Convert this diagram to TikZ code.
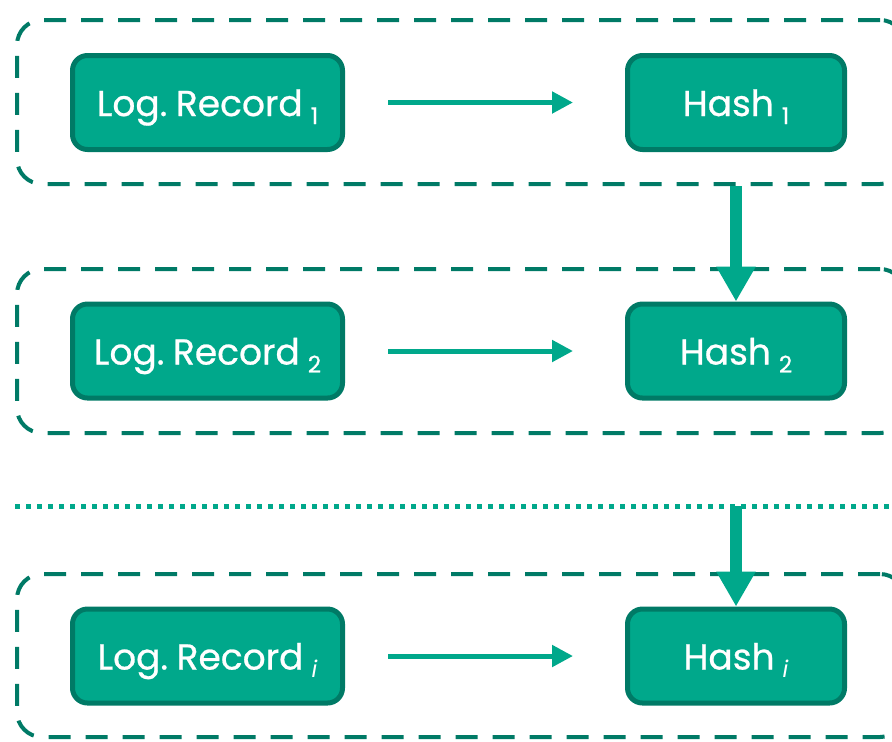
\documentclass[tikz,border=0pt]{standalone}
\usepackage{fontspec}
\setmainfont{Poppins}[UprightFeatures={FakeBold=0.7}]
\usetikzlibrary{arrows.meta}

\definecolor{tealfill}{HTML}{00A88B}
\definecolor{tealdark}{HTML}{007A66}

% index set low and small after a label
\newcommand{\lowidx}[1]{\hspace{4pt}\raisebox{-4pt}{\fontsize{11.5}{11.5}\selectfont #1}}
\newcommand{\recfont}{\fontsize{18}{22}\selectfont\spaceskip=0.15em\relax}

\tikzset{
  rec/.style={draw=tealdark, fill=tealfill, line width=2.5pt, rounded corners=7.5pt,
    text=white, font=\recfont, text height=13.5pt, text depth=0pt,
    minimum height=47pt, inner sep=0pt},
  logrec/.style={rec, minimum width=135pt},
  hashrec/.style={rec, minimum width=108.5pt},
  blk/.style={draw=tealdark, line width=2pt, dash pattern=on 11pt off 7.5pt,
    rounded corners=12.5pt, minimum width=444pt, minimum height=82pt, inner sep=0pt},
  link/.style={draw=tealfill, line width=2.5pt, -{Triangle[length=10.5pt,width=10.5pt]},
    shorten <=21.5pt, shorten >=26pt},
  chain/.style={draw=tealfill, line width=6.3pt, -{Triangle[length=17.5pt,width=18.5pt]}},
}

\begin{document}
\begin{tikzpicture}[x=0.5pt,y=-0.5pt]
  \useasboundingbox (0,0) rectangle (892,741);
  \clip (0,0) rectangle (892,741);

  % blocks
  \node[blk] (blk1) at (461,102) {};
  \node[blk] (blk2) at (461,351) {};
  \node[blk, minimum height=81.5pt] (blki) at (461,655.5) {};

  % records and hashes
  \node[logrec] (log1) at (207.5,102.5) {Log. Record\lowidx{1}};
  \node[hashrec] (hash1) at (736,102.5) {Hash\lowidx{1}};
  \node[logrec] (log2) at (207.5,351) {Log. Record\lowidx{2}};
  \node[hashrec] (hash2) at (736,351) {Hash\lowidx{2}};
  \node[logrec] (logi) at (207.5,656) {Log. Record\lowidx{\textit{i}}};
  \node[hashrec] (hashi) at (736,656) {Hash\lowidx{\textit{i}}};

  % gap between blocks
  \coordinate (gapL) at (15,506);
  \coordinate (gapR) at (892,506);
  \draw[tealfill, line width=2.5pt, dash pattern=on 2.5pt off 3pt] (gapL) -- (gapR);

  \draw[link] (log1) -- (hash1);
  \draw[link] (log2) -- (hash2);
  \draw[link] (logi) -- (hashi);

  \draw[chain] (blk1.south -| hash1.center) -- (hash2.north);
  \draw[chain] (gapL -| hashi.center) -- (hashi.north);
\end{tikzpicture}
\end{document}
